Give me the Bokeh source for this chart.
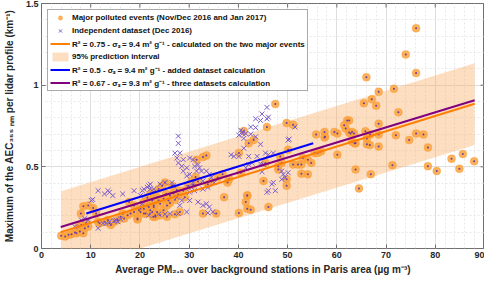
from bokeh.plotting import figure
from bokeh.models import FixedTicker, Legend, LegendItem, Range1d
from bokeh.embed import file_html
from bokeh.resources import INLINE

# ---- data ----
major_x = [4.0, 4.8, 5.5, 6.1, 6.8, 7.1, 7.8, 8.5, 8.8, 7.5, 8.1, 9.1, 9.5, 8.0, 8.5, 9.5, 10.5, 11.1,
           11.5, 11.8, 12.8, 13.5, 13.8, 14.1, 14.8, 15.5, 16.1, 16.5, 16.8, 17.5, 18.1, 18.8, 19.5, 19.8,
           20.1, 20.8, 21.1, 21.5, 21.8, 22.1, 22.5, 22.8, 23.1, 23.5, 23.8, 23.5,
           17.8, 18.8, 19.5, 20.1, 20.8, 22.1, 22.7, 24.1, 24.8, 25.3, 25.8, 26.1, 26.8, 27.1, 28.1,
           20.8, 21.5, 22.1, 22.8, 23.8, 24.5, 25.1, 26.5, 22.8, 22.5, 23.1, 24.1, 24.8, 25.5, 26.1,
           27.1, 27.8, 28.8, 29.8, 30.8, 31.8, 33.8, 34.5, 35.8, 36.8, 37.8, 32.8, 35.5, 37.1, 40.1,
           41.8, 25.5, 31.5, 32.8, 33.5, 27.5, 29.1, 30.5, 31.3, 38.1, 41.8,
           47.5, 45.8, 49.8, 51.1, 43.1, 42.1, 40.1, 55.8, 57.5, 57.6, 59.5, 60.1, 62.1, 61.8, 63.1,
           63.8, 50.1, 48.5, 48.8, 48.1, 51.1, 52.1, 52.8, 53.1, 54.1, 54.8, 55.5, 56.1, 56.8, 60.1,
           54.1, 52.8, 49.8, 49.8, 45.1, 41.8, 41.5, 42.5, 46.1, 40.5, 45.5, 48.1,
           68.0, 72.5, 62.5, 68.5, 65.8, 62.5, 63.5, 66.8, 68.5, 66.1, 63.1, 63.6, 66.1, 66.7, 68.5,
           72.0, 74.7, 76.1, 77.6, 78.5, 71.3, 78.5, 80.3, 83.3, 85.6, 84.9, 87.9, 63.8, 66.9, 64.5,
           76.1, 74.0, 76.1, 66.0, 71.6, 68.5, 67.1, 65.5, 61.5, 62.8, 57.5, 41.1]
major_y = [0.078, 0.074, 0.084, 0.088, 0.098, 0.094, 0.104, 0.094, 0.124, 0.134, 0.144, 0.154, 0.134,
           0.214, 0.258, 0.264, 0.248, 0.214, 0.164, 0.154, 0.164, 0.174, 0.154, 0.144, 0.164, 0.174,
           0.194, 0.214, 0.184, 0.204, 0.214, 0.224, 0.184, 0.234, 0.244, 0.244, 0.214, 0.264, 0.254,
           0.234, 0.294, 0.264, 0.204, 0.224, 0.294, 0.314,
           0.284, 0.264, 0.178, 0.224, 0.214, 0.214, 0.194, 0.274, 0.304, 0.334, 0.294, 0.324, 0.338,
           0.210, 0.224,
           0.284, 0.310, 0.334, 0.344, 0.364, 0.384, 0.404, 0.384, 0.254, 0.224, 0.194, 0.204, 0.234,
           0.264, 0.278, 0.298, 0.330, 0.354, 0.384, 0.390, 0.410, 0.394, 0.410, 0.434, 0.454, 0.404,
           0.214, 0.214, 0.314, 0.218, 0.324, 0.194, 0.544, 0.560, 0.570, 0.358, 0.314, 0.414, 0.438,
           0.424, 0.244,
           0.884, 0.744, 0.768, 0.758, 0.664, 0.644, 0.584, 0.698, 0.714, 0.684, 0.714, 0.704, 0.784,
           0.734, 0.714, 0.644, 0.604, 0.564, 0.524, 0.504, 0.514, 0.514, 0.514, 0.554, 0.544, 0.524,
           0.584, 0.584, 0.594, 0.574, 0.454, 0.458, 0.424, 0.384, 0.414, 0.324, 0.284, 0.238, 0.254,
           0.464, 0.524, 0.484,
           0.874, 0.834, 0.784, 0.764, 0.718, 0.710, 0.704, 0.698, 0.698, 0.674, 0.654, 0.644, 0.638,
           0.634, 0.624, 0.694, 0.664, 0.704, 0.698, 0.618, 0.510, 0.504, 0.474, 0.550, 0.578, 0.488,
           0.534, 0.484, 0.454, 0.368,
           1.348, 1.188, 1.074, 1.048, 0.978, 0.960, 0.914, 0.890, 0.754, 0.704, 0.680, 0.720]

indep_x = [10.1, 11.5, 12.8, 13.5, 13.8, 14.5, 16.5, 18.8, 20.8, 21.8, 22.1, 11.5, 12.5, 13.1, 13.8,
           15.1, 15.5, 8.1, 8.8, 6.8, 9.5, 20.5, 14.8, 16.1, 21.8, 23.8, 25.1, 26.1, 10.4,
           27.8, 27.8, 27.1, 28.1, 27.5, 28.8, 30.1, 30.8, 28.5, 29.5, 27.8, 31.1, 31.8, 32.1, 32.5,
           31.5, 28.8, 29.5, 30.1, 33.5, 34.1, 34.5, 32.8, 30.8, 29.8, 30.1, 31.1, 32.8, 33.8, 35.1,
           22.1, 21.5, 22.8, 24.1, 25.1, 26.5, 26.8, 27.5, 28.5, 30.1, 28.1, 29.5, 27.8, 31.8, 32.8,
           33.5, 34.1, 34.8, 33.8, 38.5, 39.1, 40.1, 40.5, 40.8, 41.5, 20.5, 20.1,
           45.8, 44.8, 43.5, 44.5, 45.8, 46.1, 42.5, 51.5, 40.8, 40.1, 43.5, 41.1, 44.5, 41.1, 50.1,
           42.1, 43.8, 45.5, 46.1, 47.1, 42.8, 44.5, 45.1, 42.1, 41.5, 44.8, 48.8, 49.1, 50.1, 49.5,
           48.8, 47.1, 46.8, 45.8, 46.1, 47.5, 42.5, 43.5, 50.3]
indep_y = [0.294, 0.354, 0.334, 0.354, 0.344, 0.324, 0.334, 0.354, 0.364, 0.384, 0.364, 0.124, 0.154,
           0.154, 0.164, 0.174, 0.164, 0.174, 0.184, 0.134, 0.174, 0.274, 0.170, 0.180, 0.204, 0.210,
           0.210, 0.214, 0.300,
           0.688, 0.644, 0.584, 0.584, 0.554, 0.544, 0.554, 0.544, 0.504, 0.494, 0.524, 0.504, 0.514,
           0.494, 0.474, 0.474, 0.474, 0.444, 0.454, 0.474, 0.454, 0.434, 0.414, 0.404, 0.374, 0.344,
           0.354, 0.364, 0.374, 0.404,
           0.394, 0.374, 0.364, 0.394, 0.404, 0.404, 0.384, 0.314, 0.294, 0.294, 0.264, 0.224, 0.214,
           0.284, 0.264, 0.274, 0.254, 0.224, 0.218, 0.574, 0.564, 0.564, 0.724, 0.704, 0.704, 0.354,
           0.324,
           0.864, 0.824, 0.794, 0.784, 0.794, 0.804, 0.744, 0.744, 0.714, 0.694, 0.684, 0.674, 0.638,
           0.614, 0.664, 0.564, 0.564, 0.584, 0.574, 0.584, 0.524, 0.518, 0.514, 0.514, 0.494, 0.470,
           0.474, 0.454, 0.464, 0.434, 0.424, 0.404, 0.394, 0.344, 0.354, 0.354, 0.700, 0.740, 0.670]

band_x = [4, 88]
band_lower = [-0.15, 0.634]
band_upper = [0.35, 1.134]

fit_major_x = [3.9, 88.0]
fit_major_y = [0.100, 0.886]
fit_added_x = [9.1, 55.2]
fit_added_y = [0.214, 0.644]
fit_all_x = [3.9, 88.0]
fit_all_y = [0.132, 0.908]

x_min, x_max = 0, 90
y_min, y_max = 0, 1.5
x_ticks = [0, 10, 20, 30, 40, 50, 60, 70, 80, 90]
x_minor = [i * 2 for i in range(46)]
y_ticks = [0, 0.5, 1, 1.5]
y_minor = [i / 10 for i in range(16)]
y_tick_labels = {0: "0", 0.5: "0.5", 1: "1", 1.5: "1.5"}

labels = ["Major polluted events (Nov/Dec 2016 and Jan 2017)",
          "Independent dataset (Dec 2016)",
          "R² = 0.75 - σₛ = 9.4 m² g⁻¹ - calculated on the two major events",
          "95% prediction interval",
          "R² = 0.5 - σₛ = 9.4 m² g⁻¹ - added dataset calculation",
          "R² = 0.67 - σₛ = 9.3 m² g⁻¹ - three datasets calculation"]

FONT = "Liberation Sans"
AXC = "#707070"

p = figure(width=484, height=277, output_backend="svg", toolbar_location=None,
           x_range=Range1d(x_min, x_max), y_range=Range1d(y_min, y_max),
           min_border_left=4, min_border_right=0, min_border_top=3, min_border_bottom=2)
p.background_fill_color = "white"
p.border_fill_color = "white"
p.outline_line_color = AXC
p.outline_line_width = 1

# grid
p.xgrid.ticker = FixedTicker(ticks=x_ticks, minor_ticks=x_minor)
p.ygrid.ticker = FixedTicker(ticks=y_ticks, minor_ticks=y_minor)
for g in (p.xgrid, p.ygrid):
    g.grid_line_color = "#dedede"
    g.grid_line_width = 1
    g.minor_grid_line_color = "#e8e8e8"
    g.minor_grid_line_dash = "2 2"

# axes
for ax in (p.xaxis, p.yaxis):
    ax.axis_line_color = None
    ax.major_tick_in = 4
    ax.major_tick_out = 0
    ax.minor_tick_in = 0
    ax.minor_tick_out = 0
    ax.major_tick_line_color = AXC
    ax.major_label_text_font = FONT
    ax.major_label_text_font_style = "bold"
    ax.major_label_text_font_size = "9px"
    ax.major_label_text_color = "#262626"
    ax.axis_label_text_font = FONT
    ax.axis_label_text_font_style = "bold"
    ax.axis_label_text_font_size = "10px"
    ax.axis_label_text_color = "#262626"
p.xaxis.ticker = FixedTicker(ticks=x_ticks)
p.yaxis.ticker = FixedTicker(ticks=y_ticks)
p.yaxis.major_label_overrides = y_tick_labels
p.xaxis.major_label_standoff = 3
p.yaxis.major_label_standoff = 3
p.xaxis.axis_label = "Average PM₂.₅ over background stations in Paris area (µg m⁻³)"
p.yaxis.axis_label = "Maximum of the AEC₃₅₅ ₙₘ per lidar profile (km⁻¹)"
p.xaxis.axis_label_standoff = 3
p.yaxis.axis_label_standoff = 8

# glyphs
r_band = p.varea(x=band_x, y1=band_lower, y2=band_upper, fill_color=(250, 172, 97), fill_alpha=0.4)
r_major = p.scatter(major_x, major_y, marker="circle", size=8, fill_color="#FBA33F",
                    fill_alpha=0.85, line_color="#F7962A", line_alpha=0.6, line_width=0.5)
p.scatter(major_x, major_y, marker="circle", size=2, fill_color="#6B3FA0", line_color=None)
r_indep = p.scatter(indep_x, indep_y, marker="x", size=7, line_color="#7A5CD0", line_width=1)
r_fm = p.line(fit_major_x, fit_major_y, line_color="#FF7F00", line_width=2)
r_fa = p.line(fit_added_x, fit_added_y, line_color="#0000FF", line_width=2)
r_fall = p.line(fit_all_x, fit_all_y, line_color="#800080", line_width=2)

# mirrored tick marks on top and right edges (clipped to the frame, so only the inner half shows)
p.scatter(x_ticks, [y_max] * len(x_ticks), marker="dash", angle=1.5708, size=8, line_color=AXC)
p.scatter([x_max] * len(y_ticks), y_ticks, marker="dash", size=8, line_color=AXC)

legend = Legend(items=[LegendItem(label=labels[0], renderers=[r_major]),
                       LegendItem(label=labels[1], renderers=[r_indep]),
                       LegendItem(label=labels[2], renderers=[r_fm]),
                       LegendItem(label=labels[3], renderers=[r_band]),
                       LegendItem(label=labels[4], renderers=[r_fa]),
                       LegendItem(label=labels[5], renderers=[r_fall])],
                location="top_left")
legend.margin = 6
legend.padding = 2
legend.spacing = 2
legend.glyph_width = 20
legend.glyph_height = 11
legend.label_height = 11
legend.label_standoff = 2
legend.label_text_font = FONT
legend.label_text_font_style = "bold"
legend.label_text_font_size = "8px"
legend.label_text_color = "#111111"
legend.border_line_color = "#555555"
legend.border_line_width = 1
legend.background_fill_alpha = 1
p.add_layout(legend)

open("out.html", "w").write(file_html(p, INLINE))
